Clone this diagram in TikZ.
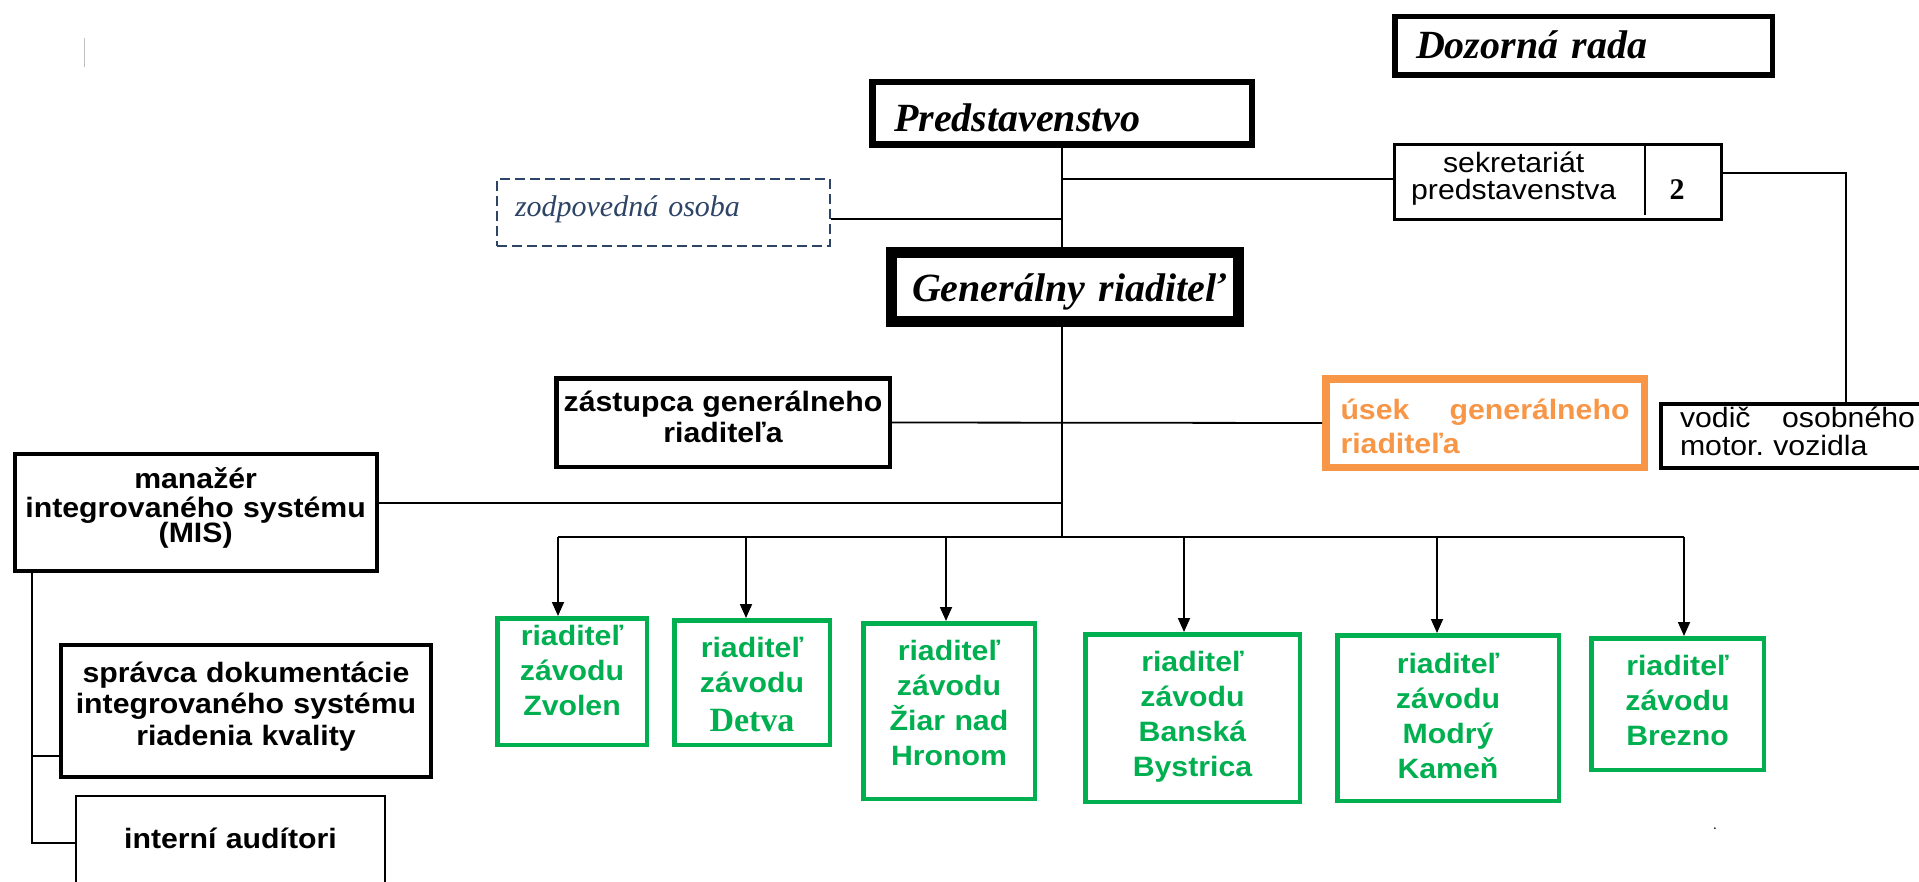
\documentclass[tikz,border=0pt]{standalone}
\usepackage{fontspec}
\setmainfont{Liberation Sans}[FakeStretch=1.08]
\newfontfamily\tms{Liberation Serif}
\usepackage{xcolor}
\usepackage{tikz}
\usetikzlibrary{positioning, arrows.meta}
\definecolor{plantgreen}{HTML}{00B050}
\definecolor{deptorange}{HTML}{F79646}
\definecolor{zodblue}{HTML}{2E4466}

\begin{document}
\begin{tikzpicture}
        [
        x=1pt, y=-1pt,
        every node/.style = {anchor=north west, inner ysep=0pt},
        board/.style = {draw, line width=#1, align=left, font=\tms\bfseries\itshape\fontsize{40}{44}\selectfont},
        unit/.style = {draw, line width=4.3pt, align=center, inner xsep=0pt, font=\bfseries\fontsize{28}{31}\selectfont},
        plant/.style = {draw=plantgreen, text=plantgreen, line width=4.5pt, align=center, inner xsep=0pt, font=\bfseries\fontsize{28}{35}\selectfont},
        link/.style = {line width=1.8pt},
        feed/.style = {link, -{Triangle[length=14pt,width=12pt]}}
        ]
    \path[use as bounding box, fill=white] (0,0) rectangle (1919,882);
    \draw[gray!50, line width=0.8pt] (84,38) -- (84,67);

    \node[board=5.5pt, inner xsep=21.25pt, text width=335pt, text height=42.25pt, text depth=16.25pt] (doz) at (1392,14) {Dozorná rada};
    \node[board=6.5pt, inner xsep=21.75pt, text width=336pt, text height=49.75pt, text depth=12.75pt] (pred) at (869,79) {Predstavenstvo};
    \node[board=11pt, inner xsep=20.5pt, text width=306pt, text height=49.5pt, text depth=19.5pt] (gr) at (886,247) {\mbox{Generálny riaditeľ}};
    \node[draw, line width=3.3pt, inner xsep=0pt, text width=326.7pt, align=left, text height=28.35pt, text depth=46.35pt, font=\fontsize{28}{27}\selectfont] (sek) at (1393,143)
        {\makebox[238pt]{sekretariát}\\\makebox[238pt]{predstavenstva}\makebox[88.7pt]{\tms\bfseries\fontsize{30}{27}\selectfont 2}};
    \node[draw=zodblue, text=zodblue, line width=2pt, dash pattern=on 10pt off 5pt, inner xsep=18pt, text width=297pt, align=left, text height=38pt, text depth=29pt, font=\tms\itshape\fontsize{30}{34}\selectfont] (zod) at (496,178) {zodpovedná osoba};

    \node[unit, line width=4.5pt, text width=333.5pt, text height=32.75pt, text depth=55.75pt] (zas) at (554,376) {zástupca generálneho\\riaditeľa};
    \node[draw=deptorange, text=deptorange, line width=7.5pt, inner xsep=14.75pt, text width=289pt, align=left, text height=40.25pt, text depth=48.25pt, font=\bfseries\fontsize{28}{34}\selectfont] (usek) at (1322,375) {úsek\hfill generálneho\\riaditeľa};
    \node[draw, line width=4.3pt, inner xsep=18.85pt, text width=235pt, align=left, text height=22.85pt, text depth=40.85pt, font=\fontsize{28}{28}\selectfont] (vod) at (1659,402) {vodič\hfill osobného\\motor.\ vozidla};
    \node[unit, text width=362pt, text height=33.85pt, text depth=82.85pt, font=\bfseries\fontsize{28}{29.5}\selectfont] (mis) at (12.5,452) {manažér\\integrovaného systému\\[-5pt](MIS)};
    \node[unit, text width=369.7pt, text height=36.85pt, text depth=94.85pt, font=\bfseries\fontsize{28}{31.5}\selectfont] (spr) at (59,643) {správca dokumentácie\\integrovaného systému\\riadenia kvality};
    \node[unit, line width=2pt, text width=309pt, text height=52pt, text depth=56pt] (int) at (75,795) {interní audítori};

    \node[plant, text width=149.5pt, text height=26.75pt, text depth=99.75pt] (zv) at (495,616) {riaditeľ\\závodu\\Zvolen};
    \node[plant, text width=155.5pt, text height=36.75pt, text depth=87.75pt] (dt) at (672,618) {riaditeľ\\závodu\\[4pt]{\tms\fontsize{34}{39}\selectfont Detva}};
    \node[plant, text width=171.5pt, text height=36.75pt, text depth=138.75pt] (zi) at (861,621) {riaditeľ\\závodu\\Žiar nad\\Hronom};
    \node[plant, text width=214.5pt, text height=36.75pt, text depth=130.75pt] (bb) at (1083,632) {riaditeľ\\závodu\\Banská\\Bystrica};
    \node[plant, text width=221.5pt, text height=37.75pt, text depth=127.75pt] (mk) at (1335,633) {riaditeľ\\závodu\\Modrý\\Kameň};
    \node[plant, text width=172.5pt, text height=36.75pt, text depth=94.75pt] (bz) at (1589,636) {riaditeľ\\závodu\\Brezno};
    \node[anchor=base, font=\fontsize{14}{14}\selectfont] (dot) at (1715,829) {.};

    \coordinate (hub) at (1062,537);
    \draw[line width=1.6pt] ([xshift=252pt]sek.north west) -- ++(0,72);
    \draw[link] (pred.south) -- (pred.south |- gr.north);
    \draw[link] ([yshift=3pt]sek.west) -- ([yshift=3pt]sek.west -| pred.south);
    \draw[link] ([yshift=-6.5pt]zod.east) -- ([yshift=-6.5pt]zod.east -| pred.south);
    \draw[link] ([yshift=9pt]sek.east) -| ([xshift=187pt]vod.north west);
    \draw[link] (gr.south -| hub) -- (hub);
    \draw[link] (zas.east) -- (usek.west);
    \draw[link] ([yshift=9.5pt]mis.east) -- ([yshift=9.5pt]mis.east -| hub);
    \draw[link] ([xshift=19.5pt]mis.south west) |- ([yshift=-45pt]spr.west);
    \draw[link] ([xshift=19.5pt]mis.south west) |- ([yshift=7pt]int.west);

    \foreach \n/\x in {zv/558, dt/746, zi/946, bb/1184, mk/1437, bz/1684}
        {
        \coordinate (t\n) at (\x,537);
        \draw[feed] (t\n) -- (t\n |- \n.north);
        }
    \draw[link] (tzv) -- (tbz);
\end{tikzpicture}
\end{document}
